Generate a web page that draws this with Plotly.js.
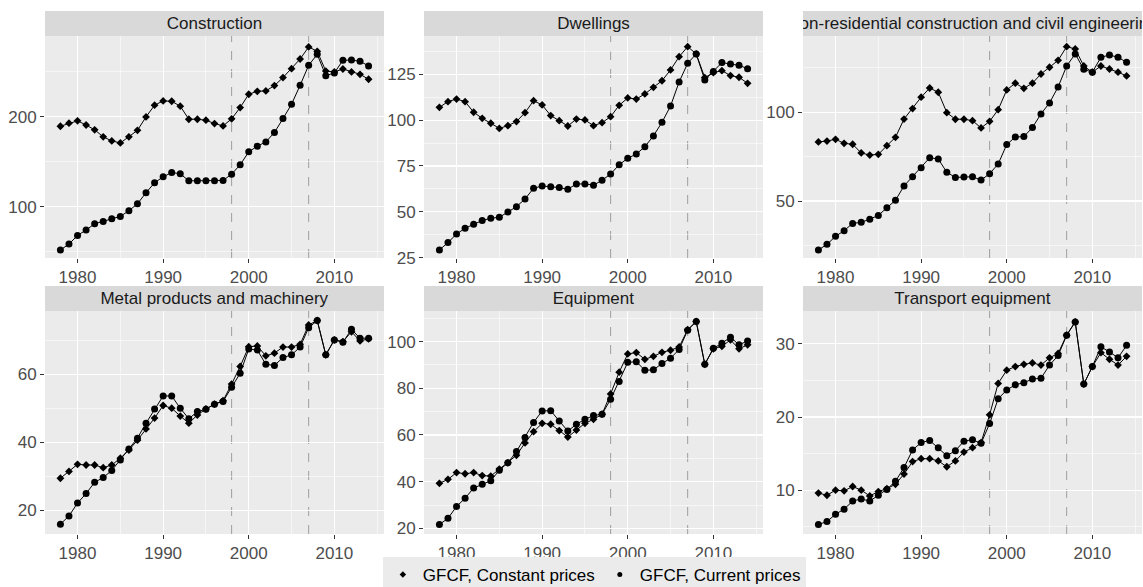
<!DOCTYPE html>
<html>
<head>
<meta charset="utf-8">
<script src="https://cdn.plot.ly/plotly-3.0.1.min.js"></script>
<style>html,body{margin:0;padding:0;background:#fff;}#chart{width:1143px;height:587px;}</style>
</head>
<body>
<div id="chart"></div>
<script>
const years = [1978,1979,1980,1981,1982,1983,1984,1985,1986,1987,1988,1989,1990,1991,1992,1993,1994,1995,1996,1997,1998,1999,2000,2001,2002,2003,2004,2005,2006,2007,2008,2009,2010,2011,2012,2013,2014];

const panelTitles = ["Construction","Dwellings","Non-residential construction and civil engineering","Metal products and machinery","Equipment","Transport equipment"];
const seriesNames = ["GFCF, Constant prices","GFCF, Current prices"];
const markerLines = [1998, 2007];

const constructionConstant = [189.6,193,195.6,191,185.6,177.8,173.3,171,177.8,185,200,213,217.8,217.4,211.9,197.4,197.4,196.3,192.6,190,197.8,210.4,225.2,228.5,228.9,234.8,243.7,253.7,264.4,277.8,273,251,250,253.3,250,247.4,241.9];
const constructionCurrent = [51.9,58.5,68.1,74.1,81.1,83.7,86.7,89.3,95.6,103.3,115.6,126.7,133.3,138.1,136.7,128.9,128.9,128.9,128.9,129.3,136.3,146.7,161.1,167.4,172.2,182.6,198.1,214.1,235.2,257.4,269.6,245.9,248.9,263,263.3,261.9,256.7];

const dwellingsConstant = [107,110.1,111.5,110.1,104.3,101,98.3,95.5,97,99.2,104.1,110.6,108.3,102.5,99.7,96.8,100.6,100.1,97,98.6,101.9,108.1,112.1,111.5,114.3,117.9,121.5,127.4,134.6,140.1,136.1,123.2,125.9,127,124.3,123.4,120.1];
const dwellingsCurrent = [29.2,33.2,37.9,41,43.2,45.2,46.5,47,49.9,52.8,57,62.8,64.1,63.7,63.2,62.3,65.2,65.2,64.5,67.2,70.6,75.7,79.2,81.5,85.5,91.4,98.8,107.7,120.8,131,136.1,121.9,126.5,131.4,130.6,129.9,128.1];

const nonResConstant = [83.3,83.8,84.8,82.5,82,77.1,75.9,76.3,81.2,85.9,96.2,102.1,108.5,113.7,111.3,99.8,96.1,96.1,95.3,91.2,94.9,101.5,112.6,116.4,113.5,116.4,121.6,125.4,129.3,137,135.7,126.1,122.6,126.1,124.4,122.6,120.5];
const nonResCurrent = [22.4,25.6,30.1,33.3,37.4,38,39.8,41.9,46.2,50.4,58.5,63.7,68.8,74.4,73.7,66.2,63.3,63.5,63.7,61.8,65.4,70.9,81.8,86.1,86.3,91.4,99.1,105.3,114.3,126.1,132.9,124.2,122.6,131,132.3,131,128.2];

const metalConstant = [29.4,31.4,33.5,33.3,33.3,32.5,33.3,35.3,37.7,40.6,43.9,47.1,50.8,50,47.7,45.6,48,49.8,51.2,52.2,57.1,62.3,68.1,68.3,65.4,66.2,68,68,68.8,74.5,75.8,65.7,70.1,69.6,72.5,69.8,70.4];
const metalCurrent = [15.9,18.3,22.1,24.9,28.2,29.6,31.7,34.8,38,41.2,45.6,49.8,53.6,53.6,50,46.9,49,49.7,51.2,52,56.2,60.3,67.4,67.1,62.9,62.6,64.9,65.7,68,73.7,75.8,65.7,70.1,69.4,73.2,70.6,70.6];

const equipmentConstant = [39.3,41,43.9,43.4,43.9,42.6,42.4,45.4,48.1,51.3,56.6,61.4,65,64.6,61.9,59.1,62.1,65,66.7,68.9,77.6,86.9,94.7,95.3,92.4,93.7,95.4,96.3,97.7,105.1,108.6,90.3,96.9,98,100.7,96.9,98.6];
const equipmentCurrent = [21.7,24.3,29.4,32.9,37.3,38.9,40.4,44.9,48.1,52.9,58.9,65.4,70.3,70.4,66,61.7,64.6,66.7,68.3,68.9,75.3,82.9,91.1,91.4,87.7,87.9,90.6,92.9,96.6,104.9,108.6,90.3,97.1,99.3,101.9,98.6,100.3];

const transportConstant = [9.6,9.3,10,9.9,10.5,10,9.2,9.8,10.2,10.8,12.2,13.9,14.3,14.3,14,13.2,14,15.2,15.8,16.5,20.3,24.6,26.4,26.9,27.2,27.4,27.1,28.1,28.7,31.2,33,24.5,26.9,28.8,27.9,27.1,28.3];
const transportCurrent = [5.3,5.7,6.7,7.4,8.5,8.8,8.5,9.3,10.1,11.2,13.1,15.5,16.5,16.8,15.8,14.7,15.4,16.7,16.9,16.4,19.1,22.5,23.7,24.4,24.7,25.2,25.3,27.1,28.4,31.2,33,24.5,26.9,29.6,28.9,28.1,29.8];

const constantSeries = [constructionConstant, dwellingsConstant, nonResConstant, metalConstant, equipmentConstant, transportConstant];
const currentSeries = [constructionCurrent, dwellingsCurrent, nonResCurrent, metalCurrent, equipmentCurrent, transportCurrent];

// layout helpers (pixels)
const W = 1143, H = 587;
const colPx = [[45,384],[424,763],[803,1142]];
const rowPx = [[36,258],[311,534]];
const stripPx = [[11,36],[286,311]];
const yRanges = [[43,290],[24.8,145.9],[17.9,143],[13.0,78.6],[17.6,113.1],[4.0,34.5]];
const yDticks = [100,25,50,20,20,10];
const FONT = "Liberation Sans, Arial, Helvetica, sans-serif";
const FS = 17;

const traces = [];
const layout = {
  width: W, height: H,
  margin: {l:0,r:0,t:0,b:0, autoexpand:false},
  paper_bgcolor: '#ffffff',
  plot_bgcolor: '#EBEBEB',
  showlegend: true,
  font: {family: FONT, size: FS, color: '#4D4D4D'},
  legend: {orientation:'h', x:0.52, xanchor:'center', y:1-557/H, yanchor:'top',
           bgcolor:'#EBEBEB', font:{family:FONT,size:FS,color:'#000000'},
           itemwidth:30, tracegroupgap:0, itemclick:false},
  annotations: [], shapes: []
};

for (let i = 0; i < 6; i++) {
  const r = Math.floor(i/3), c = i%3;
  const sfx = i === 0 ? '' : String(i+1);
  const xa = 'x'+sfx, ya = 'y'+sfx;
  layout['xaxis'+sfx] = {
    domain:[colPx[c][0]/W, colPx[c][1]/W], anchor: ya,
    range:[1976.2,2015.8], tick0:1980, dtick:10,
    showgrid:true, gridcolor:'#ffffff', gridwidth:1.1, zeroline:false,
    ticks:'outside', ticklen:4, tickwidth:1, tickcolor:'#333333',
    tickfont:{family:FONT,size:FS,color:'#4D4D4D'},
    showline:false, fixedrange:true,
    minor:{tick0:1975, dtick:5, showgrid:true, gridcolor:'#ffffff', gridwidth:0.55, ticks:''}
  };
  layout['yaxis'+sfx] = {
    domain:[1-rowPx[r][1]/H, 1-rowPx[r][0]/H], anchor: xa,
    range: yRanges[i], dtick: yDticks[i], tick0: 0,
    showgrid:true, gridcolor:'#ffffff', gridwidth:1.1, zeroline:false,
    ticks:'outside', ticklen:4, tickwidth:1, tickcolor:'#333333',
    tickfont:{family:FONT,size:FS,color:'#4D4D4D'},
    showline:false, fixedrange:true,
    minor:{tick0:0, dtick: yDticks[i]/2, showgrid:true, gridcolor:'#ffffff', gridwidth:0.55, ticks:''}
  };
  // vertical dashed reference lines
  markerLines.forEach(function(yr){
    layout.shapes.push({type:'line', xref:xa, yref:ya+' domain', x0:yr, x1:yr, y0:0, y1:1,
      line:{color:'#9E9E9E', width:1, dash:'dash'}, layer:'below'});
  });
  // strip
  layout.annotations.push({
    text: panelTitles[i], xref:'paper', yref:'paper',
    x: (colPx[c][0]+colPx[c][1])/2/W, y: 1-(stripPx[r][0]+stripPx[r][1])/2/H,
    xanchor:'center', yanchor:'middle', showarrow:false,
    width: colPx[c][1]-colPx[c][0], height: stripPx[r][1]-stripPx[r][0],
    align:'center', valign:'middle', bgcolor:'#D9D9D9', borderpad:0, borderwidth:0,
    font:{family:FONT,size:FS,color:'#1A1A1A'}
  });
  traces.push({x:years, y:currentSeries[i], xaxis:xa, yaxis:ya, type:'scatter', mode:'lines+markers',
    name:seriesNames[1], showlegend:false, hoverinfo:'skip',
    line:{color:'#000000', width:1}, marker:{symbol:'circle', size:7, color:'#000000'}});
  traces.push({x:years, y:constantSeries[i], xaxis:xa, yaxis:ya, type:'scatter', mode:'lines+markers',
    name:seriesNames[0], showlegend:false, hoverinfo:'skip',
    line:{color:'#000000', width:1}, marker:{symbol:'diamond', size:6, color:'#000000'}});
}
// legend-only entries
traces.push({x:[null], y:[null], type:'scatter', mode:'markers', name:seriesNames[0], showlegend:true,
  marker:{symbol:'diamond', size:5, color:'#000000'}});
traces.push({x:[null], y:[null], type:'scatter', mode:'markers', name:seriesNames[1], showlegend:true,
  marker:{symbol:'circle', size:5, color:'#000000'}});

Plotly.newPlot('chart', traces, layout, {displayModeBar:false, staticPlot:true});
</script>
</body>
</html>
